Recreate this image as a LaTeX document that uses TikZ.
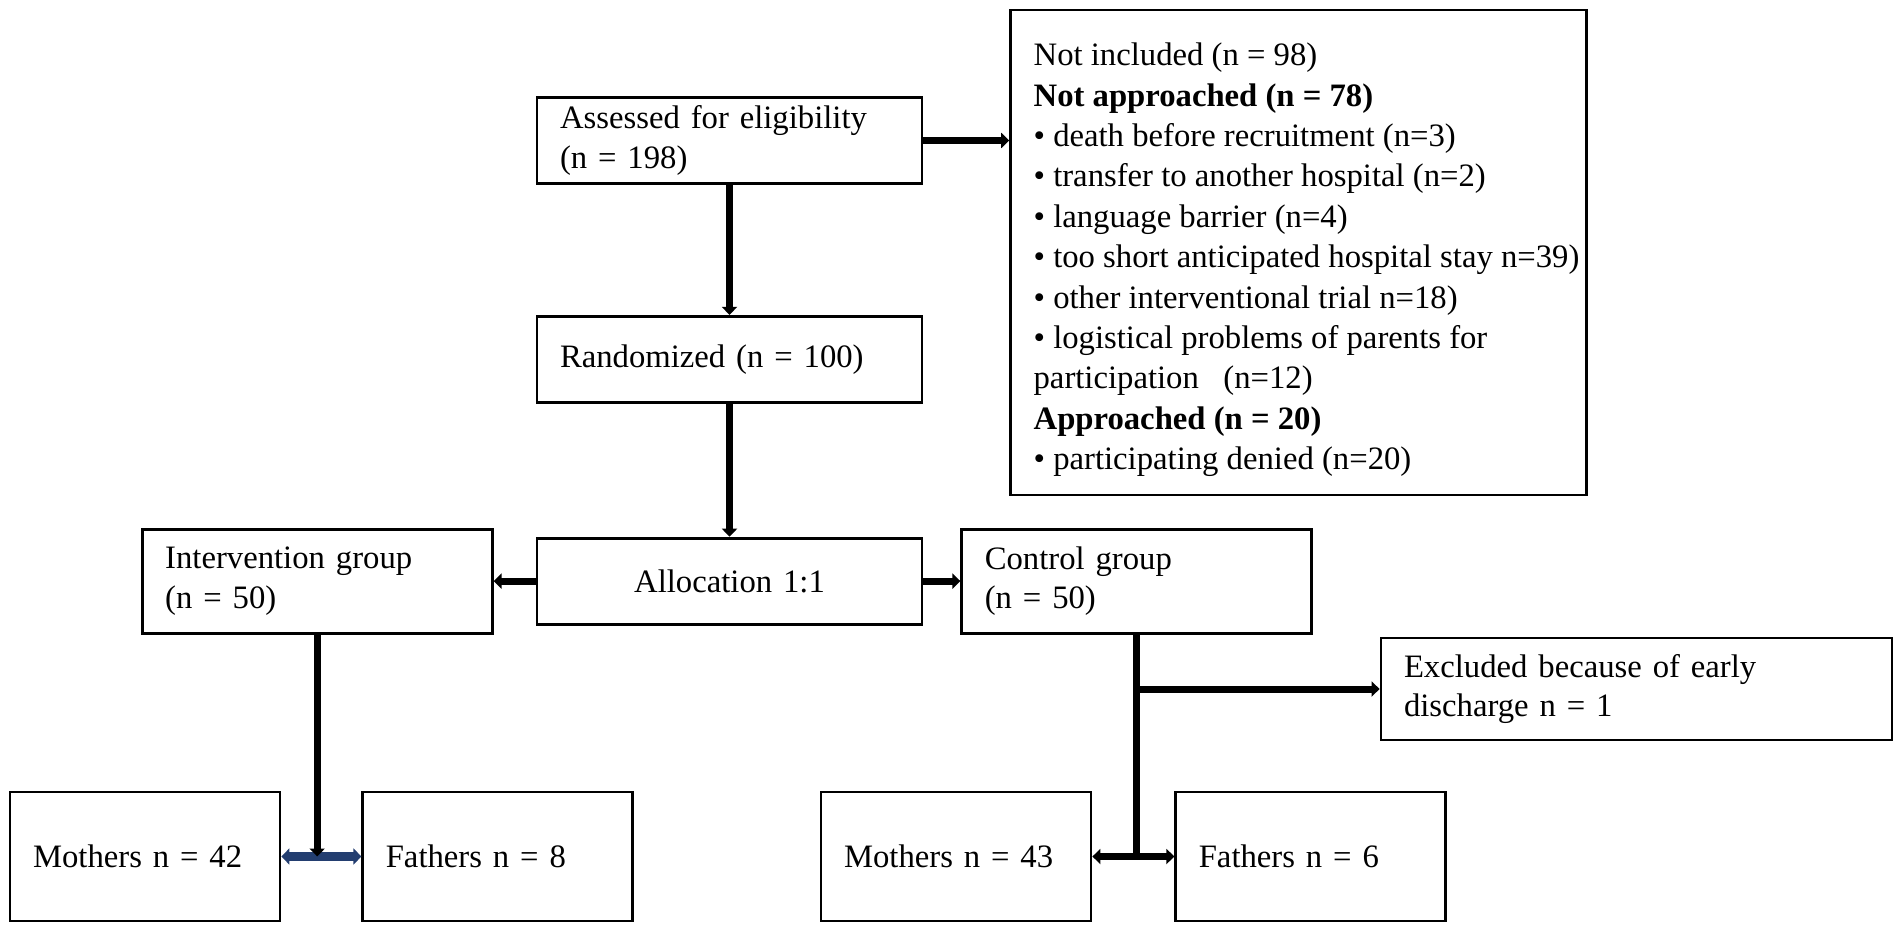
\documentclass[tikz,border=0pt]{standalone}
\usepackage{fontspec}
\setmainfont{Liberation Serif}
\usetikzlibrary{arrows.meta,positioning}
\definecolor{navyline}{RGB}{35,62,112}

\begin{document}
\begin{tikzpicture}[x=0.5pt, y=-0.5pt, font=\fontsize{16.35pt}{19.7pt}\selectfont,
        box/.style={draw, line width=1.4pt, inner xsep=11.5pt, inner ysep=0pt, align=left},
        mid/.style={box, text width=169.5pt, minimum height=43pt},
        group/.style={box, text width=152pt, minimum height=52pt},
        parent/.style={box, text width=112pt, minimum height=64.5pt},
        link/.style={line width=3.5pt},
        arr/.style={link, -{Triangle[length=4pt,width=7.5pt]}}]
        \useasboundingbox (0,0) rectangle (1902,931);

        \node[mid] (assess) at (729.5,140.5) {Assessed for eligibility\\(n = 198)};
        \node[mid, below=65pt of assess] (rand) {Randomized (n = 100)};
        \node[mid, align=center, below=66.5pt of rand] (alloc) {Allocation 1:1};
        \node[group, left=21pt of alloc] (interv) {Intervention group\\(n = 50)};
        \node[group, right=18.5pt of alloc] (control) {Control group\\(n = 50)};
        \node[draw, line width=1.4pt, inner xsep=3.5pt, minimum height=242.5pt,
            font=\fontsize{16.35pt}{20.2pt}\selectfont] (notinc) at (1298.5,252.5)
            {\hspace*{8pt}\raisebox{-3.6pt}[\height][\depth]{\begin{tabular}{@{}l@{}}
            Not included (n = 98)\\
            \textbf{Not approached (n = 78)}\\
            • death before recruitment (n=3)\\
            • transfer to another hospital (n=2)\\
            • language barrier (n=4)\\
            • too short anticipated hospital stay n=39)\\
            • other interventional trial n=18)\\
            • logistical problems of parents for\\
            participation\ \ \ (n=12)\\
            \textbf{Approached (n = 20)}\\
            • participating denied (n=20)
            \end{tabular}}};
        \node[box, text width=232.5pt, minimum height=51pt] (excl) at (1636.5,689)
            {Excluded because of early\\discharge n = 1};
        \node[parent] (m42) at (145,856.5) {Mothers n = 42};
        \node[parent, right=40pt of m42] (f8) {Fathers n = 8};
        \node[parent] (m43) at (956,856.5) {Mothers n = 43};
        \node[parent, right=41pt of m43] (f6) {Fathers n = 6};

        \coordinate (ij) at (interv.south |- m42.east);
        \coordinate (cb) at (control.south |- excl.west);
        \coordinate (cj) at (control.south |- m43.east);

        \draw[arr] (assess.east) -- (assess.east -| notinc.west);
        \draw[arr] (assess) -- (rand);
        \draw[arr] (rand) -- (alloc);
        \draw[arr] (alloc) -- (interv);
        \draw[arr] (alloc) -- (control);
        \draw[link, line width=4.5pt, draw=navyline, {Triangle[length=4pt,width=8pt]}-{Triangle[length=4pt,width=8pt]}] (m42.east) -- (f8.west);
        \draw[arr] (interv.south) -- (ij);
        \draw[link] (control.south) -- (cj);
        \draw[arr] (cb) -- (excl.west);
        \draw[arr, {Triangle[length=4pt,width=7.5pt]}-{Triangle[length=4pt,width=7.5pt]}] (m43.east) -- (f6.west);
\end{tikzpicture}
\end{document}
